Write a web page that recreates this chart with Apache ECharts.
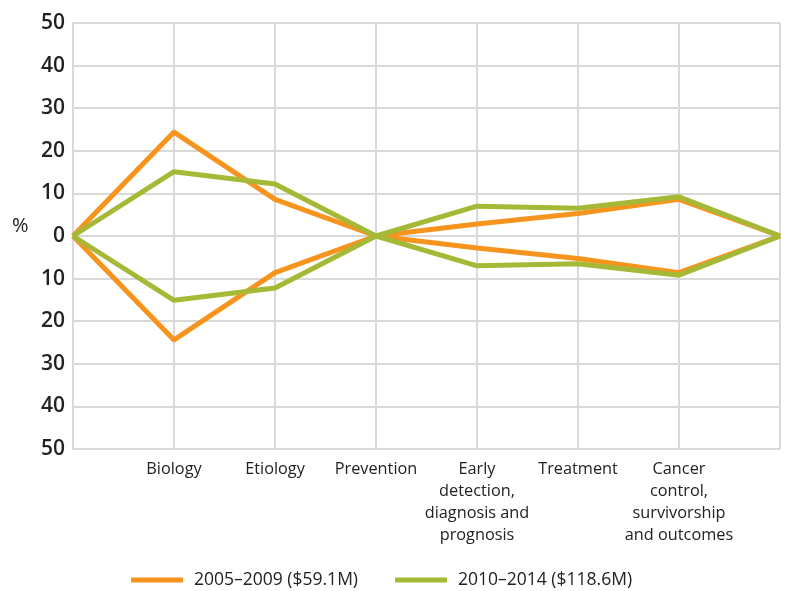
<!DOCTYPE html>
<html>
<head>
<meta charset="utf-8">
<script src="https://cdn.jsdelivr.net/npm/echarts@6/dist/echarts.min.js"></script>
<style>
html, body { margin: 0; padding: 0; background: #fff; }
#main { width: 787px; height: 591px; }
</style>
</head>
<body>
<div id="main"></div>
<script>
// categories, first and last are the empty ends of the diamond
var categories = ['', 'Biology', 'Etiology', 'Prevention',
	'Early\ndetection,\ndiagnosis and\nprognosis', 'Treatment',
	'Cancer\ncontrol,\nsurvivorship\nand outcomes', ''];

var seriesNames = ['2005\u20132009 ($59.1M)', '2010\u20132014 ($118.6M)'];

// 2005-2009, drawn above and below the zero line
var upper0509 = [0, 24.4, 8.6, 0, 2.8, 5.3, 8.6, 0];
var lower0509 = [0, -24.4, -8.6, 0, -2.8, -5.3, -8.6, 0];
// 2010-2014
var upper1014 = [0, 15.1, 12.2, 0, 7.0, 6.5, 9.2, 0];
var lower1014 = [0, -15.1, -12.2, 0, -7.0, -6.5, -9.2, 0];

var yTicks = [-50, 50, 10];

var orange = '#f7941d';
var green = '#a5b936';

var chart = echarts.init(document.getElementById('main'));

function lineSeries(name, data, color){
	return {
		name: name,
		type: 'line',
		data: data,
		symbol: 'none',
		lineStyle: { color: color, width: 5 },
		itemStyle: { color: color }
	};
}

var option = {
	animation: false,
	grid: { left: 73, right: 7, top: 23, bottom: 142 },
	legend: {
		bottom: -3,
		left: 126,
		itemGap: 37,
		icon: 'rect',
		itemWidth: 52,
		itemHeight: 5,
		textStyle: { fontFamily: 'Open Sans', fontSize: 17.5, color: '#222', padding: [0, 0, 0, 6] },
		data: seriesNames
	},
	graphic: [{
		type: 'text',
		left: 12,
		top: 216,
		style: { text: '%', fontFamily: 'Open Sans', fontSize: 20, fill: '#222' }
	}],
	xAxis: {
		type: 'category',
		data: categories,
		boundaryGap: false,
		axisTick: { show: false },
		axisLine: { lineStyle: { color: '#d9d9d9', width: 2 } },
		splitLine: { show: true, lineStyle: { color: '#d9d9d9', width: 2 } },
		axisLabel: {
			interval: 0,
			margin: 9,
			fontFamily: 'Open Sans',
			fontSize: 16.3,
			lineHeight: 22,
			color: '#222'
		}
	},
	yAxis: {
		type: 'value',
		min: yTicks[0],
		max: yTicks[1],
		interval: yTicks[2],
		axisLine: { show: true, lineStyle: { color: '#d9d9d9', width: 2 } },
		axisTick: { show: false },
		splitLine: { lineStyle: { color: '#d9d9d9', width: 2 } },
		axisLabel: {
			margin: 8,
			fontFamily: 'Open Sans',
			fontSize: 21,
			fontWeight: 600,
			color: '#222',
			formatter: function (v) { return Math.abs(v); }
		}
	},
	series: [
		lineSeries(seriesNames[0], upper0509, orange),
		lineSeries(seriesNames[0], lower0509, orange),
		lineSeries(seriesNames[1], upper1014, green),
		lineSeries(seriesNames[1], lower1014, green)
	]
};

chart.setOption(option);
</script>
</body>
</html>
